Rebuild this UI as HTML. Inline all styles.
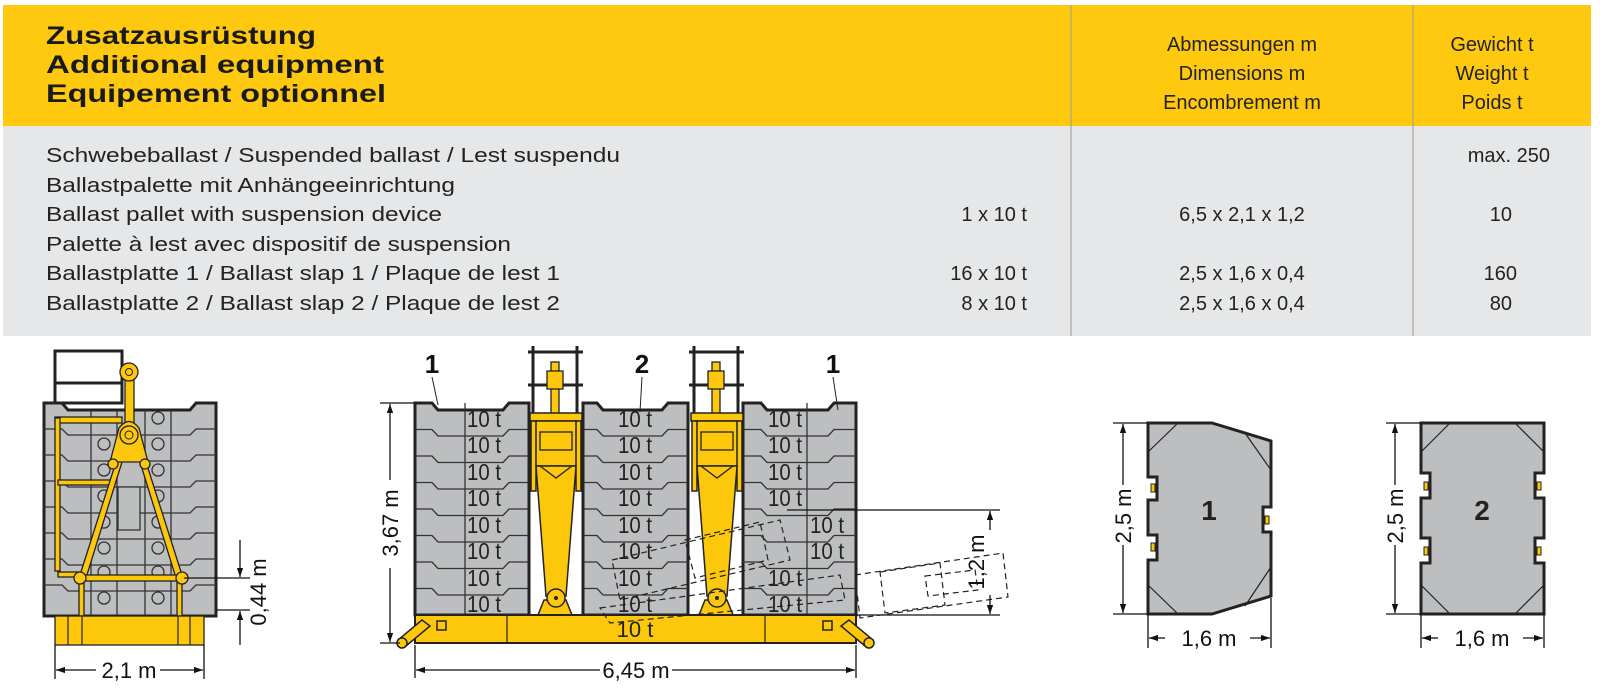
<!DOCTYPE html>
<html><head><meta charset="utf-8"><style>
html,body{margin:0;padding:0;background:#fff;}
svg{display:block;}
text{font-family:"Liberation Sans",Arial,sans-serif;}
</style></head><body>
<svg width="1600" height="688" viewBox="0 0 1600 688" xmlns="http://www.w3.org/2000/svg">
<defs>
<marker id="ar" viewBox="0 0 10 10" refX="10" refY="5" markerWidth="9" markerHeight="9" orient="auto-start-reverse" markerUnits="userSpaceOnUse"><path d="M0,1.5 L10,5 L0,8.5 z" fill="#111"/></marker>
</defs>
<rect x="3" y="5" width="1588" height="121" fill="#fec90f"/>
<rect x="3" y="126" width="1588" height="210" fill="#e6e7e8"/>
<line x1="1071" y1="5" x2="1071" y2="336" stroke="#9a9a9a" stroke-width="1"/>
<line x1="1413" y1="5" x2="1413" y2="336" stroke="#9a9a9a" stroke-width="1"/>
<g font-weight="bold" font-size="25" fill="#1a1a1a">
<text x="46" y="44" textLength="270" lengthAdjust="spacingAndGlyphs">Zusatzausrüstung</text>
<text x="46" y="73" textLength="338" lengthAdjust="spacingAndGlyphs">Additional equipment</text>
<text x="46" y="102" textLength="340" lengthAdjust="spacingAndGlyphs">Equipement optionnel</text>
</g>
<g font-size="20" fill="#222" text-anchor="middle">
<text x="1242" y="51">Abmessungen m</text>
<text x="1242" y="80">Dimensions m</text>
<text x="1242" y="109">Encombrement m</text>
<text x="1492" y="51">Gewicht t</text>
<text x="1492" y="80">Weight t</text>
<text x="1492" y="109">Poids t</text>
</g>
<g font-size="20" fill="#222">
<text x="46" y="162" textLength="574" lengthAdjust="spacingAndGlyphs">Schwebeballast / Suspended ballast / Lest suspendu</text>
<text x="46" y="192" textLength="409" lengthAdjust="spacingAndGlyphs">Ballastpalette mit Anhängeeinrichtung</text>
<text x="46" y="221" textLength="396" lengthAdjust="spacingAndGlyphs">Ballast pallet with suspension device</text>
<text x="46" y="251" textLength="465" lengthAdjust="spacingAndGlyphs">Palette à lest avec dispositif de suspension</text>
<text x="46" y="280" textLength="514" lengthAdjust="spacingAndGlyphs">Ballastplatte 1 / Ballast slap 1 / Plaque de lest 1</text>
<text x="46" y="310" textLength="514" lengthAdjust="spacingAndGlyphs">Ballastplatte 2 / Ballast slap 2 / Plaque de lest 2</text>
</g>
<g font-size="20" fill="#222" text-anchor="end">
<text x="1027" y="221">1 x 10 t</text>
<text x="1027" y="280">16 x 10 t</text>
<text x="1027" y="310">8 x 10 t</text>
<text x="1550" y="162">max. 250</text>
<text x="1512" y="221">10</text>
<text x="1517" y="280">160</text>
<text x="1512" y="310">80</text>
</g>
<g font-size="20" fill="#222" text-anchor="middle">
<text x="1242" y="221">6,5 x 2,1 x 1,2</text>
<text x="1242" y="280">2,5 x 1,6 x 0,4</text>
<text x="1242" y="310">2,5 x 1,6 x 0,4</text>
</g>

<rect x="55" y="351" width="67" height="52" fill="#fff" stroke="#222" stroke-width="3"/>
<line x1="55" y1="383" x2="122" y2="383" stroke="#222" stroke-width="3"/>
<path d="M44,403 H62 L68,410 H190 L196,403 H216 V616 H44 Z" fill="#bcbec0" stroke="#222" stroke-width="3"/>
<g stroke="#333" stroke-width="1.3" fill="none">
<path d="M44,429 H62 L68,435 H190 L196,429 H216"/>
<path d="M44,455 H62 L68,461 H190 L196,455 H216"/>
<path d="M44,481 H62 L68,487 H190 L196,481 H216"/>
<path d="M44,507 H62 L68,513 H190 L196,507 H216"/>
<path d="M44,533 H62 L68,539 H190 L196,533 H216"/>
<path d="M44,559 H62 L68,565 H190 L196,559 H216"/>
<path d="M44,585 H62 L68,591 H190 L196,585 H216"/>
<line x1="91" y1="410" x2="91" y2="616"/><line x1="117" y1="410" x2="117" y2="616"/>
<line x1="145" y1="410" x2="145" y2="616"/><line x1="171" y1="410" x2="171" y2="616"/>
</g>
<g stroke="#333" stroke-width="1.3" fill="none">
<circle cx="158" cy="418" r="6"/>
<circle cx="104" cy="444" r="6"/><circle cx="158" cy="444" r="6"/>
<circle cx="104" cy="470" r="6"/><circle cx="158" cy="470" r="6"/>
<circle cx="104" cy="496" r="6"/><circle cx="158" cy="496" r="6"/>
<circle cx="104" cy="522" r="6"/><circle cx="158" cy="522" r="6"/>
<circle cx="104" cy="548" r="6"/><circle cx="158" cy="548" r="6"/>
<circle cx="104" cy="572" r="6"/><circle cx="158" cy="572" r="6"/>
<circle cx="104" cy="598" r="6"/><circle cx="158" cy="598" r="6"/>
</g>
<rect x="118" y="487" width="22" height="43" fill="#bcbec0" stroke="#333" stroke-width="1.3"/>
<g fill="#fdc70c" stroke="#222" stroke-width="1.3">
<rect x="55" y="417" width="67" height="6"/>
<rect x="55" y="418" width="5" height="153"/>
<rect x="58" y="480" width="55" height="5"/>
<rect x="58" y="572" width="22" height="5"/>
<rect x="125" y="380" width="9" height="45"/>
<circle cx="129" cy="372" r="9"/>
<polygon points="80,575 116,462 122,462 86,578"/>
<polygon points="182,575 146,462 140,462 176,578"/>
<rect x="80" y="575" width="102" height="6"/>
<rect x="79" y="578" width="5" height="38"/><rect x="177" y="578" width="5" height="38"/>
<path d="M110,462 L119,428 Q129,415 139,428 L148,462 Z"/>
<circle cx="129" cy="435" r="9"/>
<circle cx="113" cy="464" r="5"/><circle cx="145" cy="464" r="5"/>
<circle cx="80" cy="578" r="6"/><circle cx="182" cy="578" r="6"/>
<rect x="55" y="616" width="149" height="29"/>
</g>
<circle cx="129" cy="372" r="3.5" fill="#fdc70c" stroke="#222"/>
<circle cx="129" cy="435" r="4" fill="#fdc70c" stroke="#222"/>
<g stroke="#222" stroke-width="1.2"><line x1="68" y1="616" x2="68" y2="645"/><line x1="82" y1="616" x2="82" y2="645"/><line x1="178" y1="616" x2="178" y2="645"/><line x1="190" y1="616" x2="190" y2="645"/></g>
<g stroke="#111" stroke-width="1.3" fill="none">
<line x1="55" y1="645" x2="55" y2="679"/><line x1="204" y1="645" x2="204" y2="679"/>
<line x1="56" y1="670" x2="96" y2="670" marker-start="url(#ar)"/>
<line x1="160" y1="670" x2="203" y2="670" marker-end="url(#ar)"/>
<line x1="184" y1="578" x2="250" y2="578"/><line x1="216" y1="610" x2="250" y2="610"/>
<line x1="240" y1="540" x2="240" y2="577" marker-end="url(#ar)"/>
<line x1="240" y1="645" x2="240" y2="611" marker-end="url(#ar)"/>
</g>
<text x="129" y="678" font-size="22" text-anchor="middle" fill="#111">2,1 m</text>
<text transform="translate(266,592) rotate(-90)" font-size="22" text-anchor="middle" fill="#111">0,44 m</text>

<g stroke="#222" stroke-width="3" fill="none">
<line x1="528" y1="352" x2="583" y2="352"/><line x1="528" y1="385" x2="583" y2="385"/>
<line x1="533" y1="346" x2="533" y2="413"/><line x1="577" y1="346" x2="577" y2="413"/>
<line x1="689" y1="352" x2="744" y2="352"/><line x1="689" y1="385" x2="744" y2="385"/>
<line x1="694" y1="346" x2="694" y2="413"/><line x1="738" y1="346" x2="738" y2="413"/>
</g>
<g fill="#fdc70c" stroke="#222" stroke-width="1.3">
<rect x="551" y="362" width="8" height="52"/><rect x="547" y="371" width="16" height="18"/>
<rect x="712" y="362" width="8" height="52"/><rect x="708" y="371" width="16" height="18"/>
</g>
<g fill="#bcbec0" stroke="#222" stroke-width="3">
<path d="M415,403 H432 L438,410 H503 L509,403 H529 V615 H415 Z"/>
<path d="M583,403 H597 L603,410 H662 L668,403 H688 V615 H583 Z"/>
<path d="M743,403 H761 L767,410 H828 L834,403 H856 V615 H743 Z"/>
</g>
<g stroke="#333" stroke-width="1.3" fill="none">
<path d="M415,429.5 H432 L438,436 H503 L509,429.5 H529"/>
<path d="M415,456 H432 L438,462.5 H503 L509,456 H529"/>
<path d="M415,482.5 H432 L438,489 H503 L509,482.5 H529"/>
<path d="M415,509 H432 L438,515.5 H503 L509,509 H529"/>
<path d="M415,535.5 H432 L438,542 H503 L509,535.5 H529"/>
<path d="M415,562 H432 L438,568.5 H503 L509,562 H529"/>
<path d="M415,588.5 H432 L438,595 H503 L509,588.5 H529"/>
<line x1="465" y1="403" x2="465" y2="615"/>
<path d="M583,429.5 H597 L603,436 H662 L668,429.5 H688"/>
<path d="M583,456 H597 L603,462.5 H662 L668,456 H688"/>
<path d="M583,482.5 H597 L603,489 H662 L668,482.5 H688"/>
<path d="M583,509 H597 L603,515.5 H662 L668,509 H688"/>
<path d="M583,535.5 H597 L603,542 H662 L668,535.5 H688"/>
<path d="M583,562 H597 L603,568.5 H662 L668,562 H688"/>
<path d="M583,588.5 H597 L603,595 H662 L668,588.5 H688"/>
<path d="M743,429.5 H761 L767,436 H828 L834,429.5 H856"/>
<path d="M743,456 H761 L767,462.5 H828 L834,456 H856"/>
<path d="M743,482.5 H761 L767,489 H828 L834,482.5 H856"/>
<path d="M743,509 H761 L767,515.5 H828 L834,509 H856"/>
<path d="M743,535.5 H761 L767,542 H828 L834,535.5 H856"/>
<path d="M743,562 H761 L767,568.5 H828 L834,562 H856"/>
<path d="M743,588.5 H761 L767,595 H828 L834,588.5 H856"/>
<line x1="807" y1="403" x2="807" y2="615"/>
</g>
<g font-size="23" fill="#222" transform="translate(0,3)">
<text x="467" y="424" textLength="34" lengthAdjust="spacingAndGlyphs">10 t</text>
<text x="467" y="450" textLength="34" lengthAdjust="spacingAndGlyphs">10 t</text>
<text x="467" y="477" textLength="34" lengthAdjust="spacingAndGlyphs">10 t</text>
<text x="467" y="503" textLength="34" lengthAdjust="spacingAndGlyphs">10 t</text>
<text x="467" y="530" textLength="34" lengthAdjust="spacingAndGlyphs">10 t</text>
<text x="467" y="556" textLength="34" lengthAdjust="spacingAndGlyphs">10 t</text>
<text x="467" y="583" textLength="34" lengthAdjust="spacingAndGlyphs">10 t</text>
<text x="467" y="609" textLength="34" lengthAdjust="spacingAndGlyphs">10 t</text>
<text x="618" y="424" textLength="34" lengthAdjust="spacingAndGlyphs">10 t</text>
<text x="618" y="450" textLength="34" lengthAdjust="spacingAndGlyphs">10 t</text>
<text x="618" y="477" textLength="34" lengthAdjust="spacingAndGlyphs">10 t</text>
<text x="618" y="503" textLength="34" lengthAdjust="spacingAndGlyphs">10 t</text>
<text x="618" y="530" textLength="34" lengthAdjust="spacingAndGlyphs">10 t</text>
<text x="618" y="556" textLength="34" lengthAdjust="spacingAndGlyphs">10 t</text>
<text x="618" y="583" textLength="34" lengthAdjust="spacingAndGlyphs">10 t</text>
<text x="618" y="609" textLength="34" lengthAdjust="spacingAndGlyphs">10 t</text>
<text x="768" y="424" textLength="34" lengthAdjust="spacingAndGlyphs">10 t</text>
<text x="768" y="450" textLength="34" lengthAdjust="spacingAndGlyphs">10 t</text>
<text x="768" y="477" textLength="34" lengthAdjust="spacingAndGlyphs">10 t</text>
<text x="768" y="503" textLength="34" lengthAdjust="spacingAndGlyphs">10 t</text>
<text x="810" y="530" textLength="34" lengthAdjust="spacingAndGlyphs">10 t</text>
<text x="810" y="556" textLength="34" lengthAdjust="spacingAndGlyphs">10 t</text>
<text x="768" y="583" textLength="34" lengthAdjust="spacingAndGlyphs">10 t</text>
<text x="768" y="609" textLength="34" lengthAdjust="spacingAndGlyphs">10 t</text>
</g>
<g fill="#fdc70c" stroke="#222" stroke-width="1.5">
<rect x="530" y="413" width="52" height="8"/>
<rect x="534" y="421" width="44" height="45"/>
<rect x="531" y="421" width="5" height="70"/><rect x="576" y="421" width="5" height="70"/>
<polygon points="536,466 576,466 566,596 546,596"/>
<polygon points="544,600 566,600 572,615 538,615"/>
<rect x="691" y="413" width="52" height="8"/>
<rect x="695" y="421" width="44" height="45"/>
<rect x="692" y="421" width="5" height="70"/><rect x="737" y="421" width="5" height="70"/>
<polygon points="697,466 737,466 727,596 707,596"/>
<polygon points="705,600 727,600 733,615 699,615"/>
</g>
<g fill="none" stroke="#222" stroke-width="1.3">
<rect x="540" y="432" width="32" height="18"/><path d="M540,466 L556,478 L572,466"/>
<rect x="701" y="432" width="32" height="18"/><path d="M701,466 L717,478 L733,466"/>
</g>
<g fill="#fdc70c" stroke="#222" stroke-width="1.5">
<circle cx="556" cy="598" r="9"/><circle cx="717" cy="598" r="9"/>
</g>
<circle cx="556" cy="598" r="2" fill="#222"/><circle cx="717" cy="598" r="2" fill="#222"/>
<rect x="415" y="615" width="441" height="28" fill="#fdc70c" stroke="#222" stroke-width="2"/>
<g stroke="#222" stroke-width="1.2"><line x1="507" y1="615" x2="507" y2="643"/><line x1="765" y1="615" x2="765" y2="643"/></g>
<text x="635" y="637" font-size="22" text-anchor="middle" fill="#222">10 t</text>
<g fill="#fdc70c" stroke="#222" stroke-width="1.5">
<rect x="437" y="621" width="9" height="9"/><rect x="823" y="621" width="9" height="9"/>
<path d="M398,640 L422,620 L430,626 L406,646 Z"/>
<circle cx="402" cy="643" r="5"/>
<path d="M873,640 L849,620 L841,626 L865,646 Z"/>
<circle cx="869" cy="643" r="5"/>
</g>
<g fill="none" stroke="#222" stroke-width="1.2" stroke-dasharray="6,4">
<polygon points="612,560 780,520 790,560 620,600"/>
<polygon points="600,608 840,575 845,600 610,623"/>
<polygon points="685,540 760,522 768,560 695,578"/>
<polygon points="855,575 1003,553 1008,597 860,618"/>
<polygon points="880,572 940,563 945,605 885,613"/>
<polygon points="925,576 975,570 978,590 928,596"/>
</g>
<g font-size="26" font-weight="bold" fill="#111" text-anchor="middle">
<text x="432" y="373">1</text><text x="642" y="373">2</text><text x="833" y="373">1</text>
</g>
<g stroke="#222" stroke-width="1"><line x1="432" y1="377" x2="438" y2="405"/><line x1="642" y1="377" x2="640" y2="412"/><line x1="833" y1="377" x2="838" y2="410"/></g>
<g stroke="#111" stroke-width="1.3" fill="none">
<line x1="380" y1="403" x2="415" y2="403"/><line x1="380" y1="643" x2="400" y2="643"/>
<line x1="390" y1="480" x2="390" y2="404" marker-end="url(#ar)"/>
<line x1="390" y1="568" x2="390" y2="642" marker-end="url(#ar)"/>
<line x1="415" y1="645" x2="415" y2="678"/><line x1="856" y1="645" x2="856" y2="678"/>
<line x1="600" y1="670" x2="416" y2="670" marker-end="url(#ar)"/>
<line x1="672" y1="670" x2="855" y2="670" marker-end="url(#ar)"/>
<line x1="787" y1="510" x2="1000" y2="510"/><line x1="856" y1="615" x2="1000" y2="615"/>
<line x1="990" y1="530" x2="990" y2="511" marker-end="url(#ar)"/>
<line x1="990" y1="595" x2="990" y2="614" marker-end="url(#ar)"/>
</g>
<text transform="translate(398,523) rotate(-90)" font-size="22" text-anchor="middle" fill="#111">3,67 m</text>
<text x="636" y="678" font-size="22" text-anchor="middle" fill="#111">6,45 m</text>
<text transform="translate(984,562) rotate(-90)" font-size="22" text-anchor="middle" fill="#111">1,2 m</text>

<path d="M1148,423 H1212 L1271,441 V507 H1263 V532 H1271 V596 L1212,614 H1148 V560 H1157 V535 H1148 V500 H1157 V477 H1148 Z" fill="#bcbec0" stroke="#222" stroke-width="3"/>
<g stroke="#222" stroke-width="1.2"><line x1="1148" y1="452" x2="1178" y2="423"/><line x1="1245" y1="433" x2="1271" y2="470"/><line x1="1148" y1="585" x2="1178" y2="614"/><line x1="1245" y1="606" x2="1271" y2="567"/></g>
<g fill="#fdc70c" stroke="#222" stroke-width="1"><rect x="1151" y="484" width="4" height="8"/><rect x="1151" y="543" width="4" height="8"/><rect x="1265" y="516" width="4" height="8"/></g>
<text x="1209" y="520" font-size="28" font-weight="bold" text-anchor="middle" fill="#222">1</text>
<path d="M1421,423 H1544 V473 H1535 V498 H1544 V538 H1535 V563 H1544 V614 H1421 V563 H1430 V538 H1421 V498 H1430 V473 H1421 Z" fill="#bcbec0" stroke="#222" stroke-width="3"/>
<g stroke="#222" stroke-width="1.2"><line x1="1421" y1="452" x2="1450" y2="423"/><line x1="1515" y1="423" x2="1544" y2="452"/><line x1="1421" y1="585" x2="1450" y2="614"/><line x1="1515" y1="614" x2="1544" y2="585"/></g>
<g fill="#fdc70c" stroke="#222" stroke-width="1"><rect x="1424" y="482" width="4" height="8"/><rect x="1424" y="547" width="4" height="8"/><rect x="1537" y="482" width="4" height="8"/><rect x="1537" y="547" width="4" height="8"/></g>
<text x="1482" y="520" font-size="28" font-weight="bold" text-anchor="middle" fill="#222">2</text>
<g stroke="#111" stroke-width="1.3" fill="none">
<line x1="1113" y1="423" x2="1148" y2="423"/><line x1="1113" y1="614" x2="1148" y2="614"/>
<line x1="1123" y1="485" x2="1123" y2="424" marker-end="url(#ar)"/>
<line x1="1123" y1="545" x2="1123" y2="613" marker-end="url(#ar)"/>
<line x1="1148" y1="614" x2="1148" y2="648"/><line x1="1271" y1="598" x2="1271" y2="648"/>
<line x1="1165" y1="638" x2="1149" y2="638" marker-end="url(#ar)"/>
<line x1="1250" y1="638" x2="1270" y2="638" marker-end="url(#ar)"/>
<line x1="1386" y1="423" x2="1421" y2="423"/><line x1="1386" y1="614" x2="1421" y2="614"/>
<line x1="1395" y1="485" x2="1395" y2="424" marker-end="url(#ar)"/>
<line x1="1395" y1="545" x2="1395" y2="613" marker-end="url(#ar)"/>
<line x1="1421" y1="614" x2="1421" y2="648"/><line x1="1544" y1="614" x2="1544" y2="648"/>
<line x1="1438" y1="638" x2="1422" y2="638" marker-end="url(#ar)"/>
<line x1="1523" y1="638" x2="1543" y2="638" marker-end="url(#ar)"/>
</g>
<text x="1209" y="646" font-size="22" text-anchor="middle" fill="#111">1,6 m</text>
<text x="1482" y="646" font-size="22" text-anchor="middle" fill="#111">1,6 m</text>
<text transform="translate(1131,516) rotate(-90)" font-size="22" text-anchor="middle" fill="#111">2,5 m</text>
<text transform="translate(1403,516) rotate(-90)" font-size="22" text-anchor="middle" fill="#111">2,5 m</text>
</svg>
</body></html>
